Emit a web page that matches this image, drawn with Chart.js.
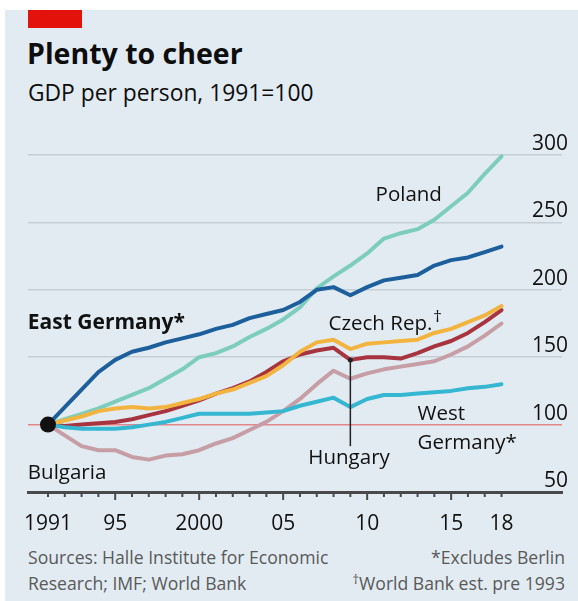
<!DOCTYPE html>
<html>
<head>
<meta charset="utf-8">
<script src="https://cdn.jsdelivr.net/npm/chart.js@4.4.1/dist/chart.umd.min.js"></script>
<style>
  html, body { margin: 0; padding: 0; background: #fff; }
  #frame { position: absolute; left: 5px; top: 10px; width: 573px; height: 591px; background: #e2ebf2; }
  #redbar { position: absolute; left: 28px; top: 10px; width: 54px; height: 18px; background: #e3120b; }
  .t { position: absolute; font-family: "Open Sans", sans-serif; color: #0d0d0d; white-space: nowrap; }
  #title { left: 27px; top: 34px; font-size: 28.5px; font-weight: 700; }
  #sub { left: 28px; top: 77px; font-size: 22.8px; }
  .src { font-size: 17.6px; color: #595959; }
  canvas { position: absolute; left: 0; top: 0; }
</style>
</head>
<body>
<div id="frame"></div>
<div id="redbar"></div>
<div class="t" id="title">Plenty to cheer</div>
<div class="t" id="sub">GDP per person, 1991=100</div>
<div class="t src" style="left:28px;top:545px">Sources: Halle Institute for Economic</div>
<div class="t src" style="left:28px;top:571px">Research; IMF; World Bank</div>
<div class="t src" style="right:13px;top:545px">*Excludes Berlin</div>
<div class="t src" style="right:13px;top:571px"><span style="font-size:13px;position:relative;top:-6px">†</span>World Bank est. pre 1993</div>
<canvas id="chart" width="578" height="601"></canvas>
<script>
const years = [1991, 1992, 1993, 1994, 1995, 1996, 1997, 1998, 1999, 2000, 2001, 2002, 2003, 2004,
  2005, 2006, 2007, 2008, 2009, 2010, 2011, 2012, 2013, 2014, 2015, 2016, 2017, 2018]

const eastGermany = [100, 113, 126, 139, 148, 154, 157, 161, 164, 167, 171, 174, 179, 182,
  185, 191, 200, 202, 196, 202, 207, 209, 211, 218, 222, 224, 228, 232]
const poland = [100, 104, 108, 112, 117, 122, 127, 134, 141, 150, 153, 158, 165, 171,
  178, 187, 201, 210, 218, 227, 238, 242, 245, 252, 262, 272, 286, 299]
const czech = [100, 103, 106, 110, 112, 113, 112, 113, 116, 119, 123, 126, 131, 136,
  144, 154, 161, 163, 156, 160, 161, 162, 163, 168, 171, 176, 181, 188]
const hungary = [100, 99, 100, 101, 102, 104, 107, 110, 114, 118, 123, 127, 132, 139,
  147, 152, 155, 157, 148, 150, 150, 149, 153, 158, 162, 168, 176, 185]
const bulgaria = [100, 92, 84, 81, 81, 76, 74, 77, 78, 81, 86, 90, 96, 102,
  110, 119, 130, 140, 134, 138, 141, 143, 145, 147, 152, 158, 166, 175]
const westGermany = [100, 98, 97, 97, 97, 98, 100, 102, 105, 108, 108, 108, 108, 109,
  110, 114, 117, 120, 113, 119, 122, 122, 123, 124, 125, 127, 128, 130]

const labelYears = [1991, 1995, 2000, 2005, 2010, 2015, 2018]
const labelTexts = ['1991', '95', '2000', '05', '10', '15', '18']
const yTicks = [50, 100, 150, 200, 250, 300]

// libellés posés en coordonnées de données
const notes = [
  { text: 'East Germany*', x: 1989.8, y: 171, bold: true },
  { text: 'Poland', x: 2010.5, y: 266 },
  { text: 'Czech Rep.', x: 2007.7, y: 170, dagger: true },
  { text: 'West', x: 2013.0, y: 103.5 },
  { text: 'Germany*', x: 2013.0, y: 82 },
  { text: 'Hungary', x: 2006.5, y: 71 },
  { text: 'Bulgaria', x: 1989.8, y: 60 },
]

const FONT = '"Open Sans", sans-serif'
const pts = arr => years.map((yr, i) => ({ x: yr, y: arr[i] }))

const line = (label, arr, color) => ({
  label: label,
  data: pts(arr),
  borderColor: color,
  backgroundColor: color,
  borderWidth: 4,
  borderJoinStyle: 'round',
  borderCapStyle: 'round',
  pointRadius: 0,
  tension: 0,
})

const overlay = {
  id: 'overlay',
  afterDatasetsDraw(chart) {
    const { ctx } = chart
    const x = chart.scales.x, y = chart.scales.y

    /* trait Hongrie */
    const i09 = years.indexOf(2009)
    const hx = x.getPixelForValue(2009)
    ctx.save()
    ctx.strokeStyle = '#222'
    ctx.lineWidth = 1.5
    ctx.beginPath()
    ctx.moveTo(hx, y.getPixelForValue(hungary[i09]))
    ctx.lineTo(hx, y.getPixelForValue(84))
    ctx.stroke()
    ctx.fillStyle = '#222'
    ctx.beginPath()
    ctx.arc(hx, y.getPixelForValue(hungary[i09]), 2.5, 0, Math.PI * 2)
    ctx.fill()

    /* graduations de l'axe x */
    const base = y.getPixelForValue(50)
    ctx.strokeStyle = '#4a4a4a'
    ctx.lineWidth = 2
    years.forEach(yr => {
      const px = x.getPixelForValue(yr)
      const len = yr % 5 === 0 ? 8 : 5
      ctx.beginPath()
      ctx.moveTo(px, base)
      ctx.lineTo(px, base + len)
      ctx.stroke()
    })
    ctx.fillStyle = '#111'
    ctx.font = '21px ' + FONT
    ctx.textAlign = 'center'
    ctx.textBaseline = 'alphabetic'
    labelYears.forEach((yr, i) => {
      ctx.fillText(labelTexts[i], x.getPixelForValue(yr), base + 38)
    })

    /* libellés */
    ctx.textAlign = 'left'
    notes.forEach(n => {
      ctx.font = (n.bold ? '700 21px ' : '20.5px ') + FONT
      ctx.fillStyle = '#111'
      const px = x.getPixelForValue(n.x), py = y.getPixelForValue(n.y)
      ctx.fillText(n.text, px, py)
      if (n.dagger) {
        const w = ctx.measureText(n.text).width
        ctx.font = '17px ' + FONT
        ctx.fillText('†', px + w + 1, py - 8)
      }
    })
    ctx.restore()
  }
}

new Chart(document.getElementById('chart'), {
  type: 'line',
  data: {
    datasets: [
      {
        label: 'start',
        data: [{ x: years[0], y: 100 }],
        showLine: false,
        pointRadius: 8,
        pointBackgroundColor: '#111',
        pointBorderWidth: 0,
      },
      line('West Germany', westGermany, '#36b7d1'),
      line('East Germany', eastGermany, '#1d5f9c'),
      line('Czech Rep.', czech, '#f3b43f'),
      line('Hungary', hungary, '#a8343f'),
      line('Poland', poland, '#7ccdbd'),
      line('Bulgaria', bulgaria, '#c79ea6'),
    ]
  },
  options: {
    responsive: false,
    animation: false,
    clip: false,
    layout: { padding: { top: 155, left: 28, right: 4, bottom: 109 } },
    plugins: { legend: { display: false }, tooltip: { enabled: false } },
    scales: {
      x: {
        type: 'linear',
        min: 1989.81,
        max: 2021.6,
        grid: { display: false, drawTicks: false },
        ticks: { display: false },
        border: { display: true, color: '#4a4a4a', width: 3 },
      },
      y: {
        position: 'right',
        min: 50,
        max: 300,
        afterBuildTicks: axis => { axis.ticks = yTicks.map(v => ({ value: v })) },
        grid: {
          drawTicks: false,
          lineWidth: 1.5,
          color: c => c.tick.value === 100 ? '#e3868b' : (c.tick.value === 50 ? 'rgba(0,0,0,0)' : '#c6ced5'),
        },
        border: { display: false },
        ticks: {
          mirror: true,
          padding: 6,
          labelOffset: -11,
          color: '#111',
          font: { family: FONT, size: 21 },
        },
      }
    }
  },
  plugins: [overlay]
})
</script>
</body>
</html>
